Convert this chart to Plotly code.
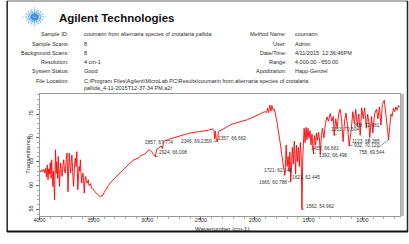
import numpy as np
import plotly.graph_objects as go

W, H = 409, 244

# ---------------- data ----------------
wavenumber = [4000, 3990, 3980, 3970, 3960, 3950, 3942, 3935, 3927, 3921, 3915, 3908, 3900, 3893, 3887,
              3881, 3876, 3870, 3865, 3860, 3855, 3851, 3845, 3840, 3835, 3830, 3826, 3820, 3814, 3808,
              3803, 3797, 3790, 3783, 3775, 3768, 3760, 3752, 3744, 3740, 3735, 3729, 3723, 3717, 3711,
              3705, 3699, 3692, 3684, 3676, 3668, 3660, 3653, 3648, 3644, 3638, 3632, 3626, 3620, 3614,
              3608, 3602, 3596, 3590, 3584, 3578, 3571, 3564, 3557, 3547, 3540, 3532, 3525, 3516, 3500,
              3486, 3470, 3456, 3445, 3434, 3425, 3416, 3400, 3380, 3360, 3334, 3300, 3274, 3240, 3213,
              3170, 3122, 3090, 3076, 3060, 3045, 3031, 3010, 2985, 2970, 2958, 2945, 2933, 2924, 2912,
              2890, 2870, 2857, 2848, 2800, 2727, 2650, 2605, 2540, 2484, 2430, 2392, 2380, 2372, 2366,
              2357, 2346, 2338, 2320, 2301, 2250, 2210, 2160, 2119, 2070, 2028, 1970, 1930, 1907, 1890,
              1882, 1872, 1861, 1850, 1841, 1830, 1818, 1800, 1784, 1772, 1761, 1750, 1739, 1730, 1721,
              1713, 1709, 1700, 1691, 1681, 1674, 1666, 1659, 1651, 1642, 1633, 1621, 1613, 1604, 1595,
              1586, 1577, 1569, 1562, 1554, 1542, 1533, 1524, 1515, 1506, 1496, 1487, 1478, 1469, 1455,
              1446, 1435, 1426, 1417, 1408, 1400, 1392, 1381, 1372, 1358, 1344, 1329, 1317, 1299, 1285,
              1271, 1263, 1248, 1235, 1221, 1207, 1194, 1180, 1166, 1153, 1139, 1123, 1103, 1089, 1075,
              1062, 1048, 1034, 1021, 1007, 993, 980, 964, 952, 942, 932, 916, 904, 888, 870,
              856, 843, 828, 815, 797, 786, 775, 766, 758, 745, 735, 725, 712, 700, 690,
              678, 665, 652]
transmittance = [63.1, 62.8, 63.3, 62.9, 63.4, 62.6, 63.6, 61.8, 64.3, 61.2, 63.5, 62.4, 64.8, 61.5, 65.4,
                 62.0, 59.8, 63.0, 61.0, 57.0, 64.0, 67.5, 62.5, 65.0, 63.3, 61.5, 66.1, 63.0, 59.8, 63.5,
                 64.7, 62.5, 61.9, 64.0, 65.4, 63.0, 62.6, 65.5, 66.8, 63.0, 58.7, 63.5, 66.8, 64.0, 62.6,
                 65.0, 66.4, 63.0, 59.8, 63.5, 65.7, 64.0, 67.1, 62.5, 59.1, 62.0, 64.0, 63.0, 65.4, 62.5,
                 60.5, 62.0, 62.6, 61.0, 58.4, 61.0, 61.9, 60.8, 60.5, 61.2, 60.0, 60.1, 60.4, 59.4, 59.2,
                 58.7, 58.3, 58.0, 57.9, 57.6, 57.9, 57.8, 58.5, 59.4, 60.0, 60.8, 61.6, 62.2, 63.0, 63.6,
                 64.5, 65.4, 65.6, 65.8, 66.3, 66.4, 66.5, 66.8, 67.5, 67.3, 67.1, 66.6, 66.4, 66.008, 67.6,
                 67.9, 68.3, 67.774, 69.2, 69.7, 70.25, 70.7, 71.0, 71.2, 71.3, 71.6, 71.9, 71.6, 69.8, 71.4,
                 69.5, 69.235, 71.3, 71.5, 71.7, 72.4, 72.9, 73.2, 73.4, 73.8, 74.2, 74.8, 75.2, 75.5, 75.3,
                 76.2, 75.3, 76.9, 75.6, 76.8, 75.8, 76.0, 74.1, 72.0, 70.2, 68.5, 66.5, 65.0, 63.0, 62.148,
                 65.5, 68.5, 64.0, 66.1, 63.0, 67.0, 60.788, 66.0, 68.0, 64.5, 69.3, 62.445, 68.5, 65.0, 68.0,
                 64.0, 69.0, 66.0, 54.962, 66.0, 72.0, 69.0, 72.2, 69.6, 72.0, 70.0, 71.5, 68.5, 70.8, 66.661,
                 70.5, 68.5, 71.0, 69.5, 71.2, 70.0, 66.498, 70.5, 72.0, 70.0, 73.0, 74.4, 73.5, 75.1, 73.5,
                 74.5, 70.504, 74.0, 72.0, 75.0, 76.0, 74.0, 69.2, 73.5, 75.2, 72.5, 68.285, 72.0, 75.5, 73.0,
                 76.0, 72.5, 75.0, 70.5, 76.3, 74.0, 76.3, 72.0, 75.0, 73.5, 70.120, 74.5, 71.0, 75.0, 76.0,
                 74.0, 76.5, 72.681, 77.0, 77.9, 76.0, 73.0, 71.5, 69.544, 73.5, 75.0, 74.5, 76.2, 75.5, 76.5,
                 75.8, 76.8, 76.4]

x_tick_values = [4000, 3500, 3000, 2500, 2000, 1500, 1000]
y_tick_values = [55, 60, 65, 70, 75]

peak_wavenumbers = [2924, 2857, 2346, 2357, 1721, 1666, 1621, 1562, 1455, 1392, 1263, 1123, 932, 828, 758]
peak_labels = ["2924, 66.008", "2857, 67.774", "2346, 69.2359", "2357, 66.662", "1721, 62.148",
               "1666, 60.788", "1621, 62.445", "1562, 54.962", "1455, 66.661", "1392, 66.498",
               "1263, 70.504", "1123, 68.285", "932, 70.120", "828, 72.681", "758, 69.544"]

left_fields = ["Sample ID:", "Sample Scans:", "Background Scans:", "Resolution:", "System Status:", "File Location:"]
left_values = ["coumarin from alternaria species of crotalaria pallida", "8", "8", "4 cm-1", "Good",
               "C:/Program Files\\Agilent\\MicroLab PC\\Results\\coumarin from alternaria species of crotalaria"]
file_location_line2 = "pallida_4-11-2015T12-37-34 PM.a2r"
right_fields = ["Method Name:", "User:", "Date/Time:", "Range:", "Apodization:"]
right_values = ["coumarin", "Admin", "4/11/2015  12:36:46PM", "4,000.00 - 650.00", "Happ-Genzel"]

# ---------------- layout helpers ----------------
PX0, PX1, PY0, PY1 = 34, 400, 94, 216   # plot area in pixels
def fx(px):
    return px / W
def fy(py):
    return 1 - py / H

FONT = "Liberation Sans, Arial, sans-serif"
TXT = "#2a2a2a"

fig = go.Figure()

fig.add_trace(go.Scatter(x=wavenumber, y=transmittance, mode="lines",
                         line=dict(color="#ff0000", width=0.9), hoverinfo="skip",
                         showlegend=False))

# Agilent spark logo (decorative)
lx, ly, ls, lc = [], [], [], []
for k in range(16):
    ang = np.pi * 2 * k / 16
    reach = 1.0 if k % 8 == 0 else (0.78 if k % 4 == 0 else (0.7 if k % 2 == 0 else 0.6))
    for j, r in enumerate([3.2, 6.0, 8.6, 11.2, 13.6]):
        if r / 13.6 > reach + 0.05:
            continue
        lx.append(r * np.cos(ang))
        ly.append(r * np.sin(ang) * 0.82)
        ls.append([2.6, 2.2, 1.9, 1.5, 1.2][j])
        lc.append(["#2a86d0", "#3d9ddc", "#5ab0e6", "#7cc3ee", "#a2d6f4"][j])
lx.append(0); ly.append(0); ls.append(3.2); lc.append("#1a72bd")
fig.add_trace(go.Scatter(x=lx, y=ly, mode="markers", xaxis="x2", yaxis="y2",
                         marker=dict(size=ls, color=lc, line=dict(width=0)),
                         hoverinfo="skip", showlegend=False))

annotations = []
# header
annotations.append(dict(x=fx(52), y=fy(17.5), xref="paper", yref="paper", text="<b>Agilent Technologies</b>",
                        showarrow=False, xanchor="left", yanchor="middle",
                        font=dict(family=FONT, size=11.5, color="#111")))
rows = [34, 44, 53, 62, 71, 81]
for i, (f, v) in enumerate(zip(left_fields, left_values)):
    annotations.append(dict(x=fx(66), y=fy(rows[i]), xref="paper", yref="paper", text=f, showarrow=False,
                            xanchor="right", yanchor="middle", font=dict(family=FONT, size=5.5, color=TXT)))
    annotations.append(dict(x=fx(77), y=fy(rows[i]), xref="paper", yref="paper", text=v, showarrow=False,
                            xanchor="left", yanchor="middle", font=dict(family=FONT, size=5.5, color=TXT)))
annotations.append(dict(x=fx(77), y=fy(87.5), xref="paper", yref="paper", text=file_location_line2,
                        showarrow=False, xanchor="left", yanchor="middle",
                        font=dict(family=FONT, size=5.5, color=TXT)))
for i, (f, v) in enumerate(zip(right_fields, right_values)):
    annotations.append(dict(x=fx(287), y=fy(rows[i]), xref="paper", yref="paper", text=f, showarrow=False,
                            xanchor="right", yanchor="middle", font=dict(family=FONT, size=5.5, color=TXT)))
    annotations.append(dict(x=fx(291), y=fy(rows[i]), xref="paper", yref="paper", text=v, showarrow=False,
                            xanchor="left", yanchor="middle", font=dict(family=FONT, size=5.5, color=TXT)))

# peak labels: text-centre offsets (pixels) from the peak point
label_offsets = [(18, -4), (-4, -6), (-21, 0), (16, -2), (-7, -5), (-18, 1), (10, 4), (18, -3.5),
                 (12, -5), (13, 0.5), (11, -5.5), (17, -5), (-3, 8.7), (-14, 0), (-17, 12)]
wn_sorted = np.array(wavenumber[::-1], dtype=float)
tr_sorted = np.array(transmittance[::-1], dtype=float)
for w, lab, (dx, dy) in zip(peak_wavenumbers, peak_labels, label_offsets):
    yv = float(np.interp(w, wn_sorted, tr_sorted))
    annotations.append(dict(x=w, y=yv, xref="x", yref="y", text=lab, showarrow=True, arrowhead=0,
                            arrowwidth=0.5, arrowcolor="#333", standoff=0, ax=dx, ay=dy,
                            font=dict(family=FONT, size=4.8, color="#333")))

# axis titles
annotations.append(dict(x=fx(22), y=fy(155), xref="paper", yref="paper", text="Transmittance", textangle=-90,
                        showarrow=False, xanchor="center", yanchor="middle",
                        font=dict(family=FONT, size=6, color=TXT)))
annotations.append(dict(x=fx(219), y=fy(228.5), xref="paper", yref="paper", text="Wavenumber (cm-1)",
                        showarrow=False, xanchor="center", yanchor="middle",
                        font=dict(family=FONT, size=6, color=TXT)))

shapes = [
    # page frame
    dict(type="line", xref="paper", yref="paper", x0=fx(1), x1=fx(408), y0=fy(1), y1=fy(1),
         line=dict(color="#999", width=1.5)),
    dict(type="line", xref="paper", yref="paper", x0=fx(1.2), x1=fx(1.2), y0=fy(1), y1=fy(232),
         line=dict(color="#222", width=1.5)),
    dict(type="line", xref="paper", yref="paper", x0=fx(407.5), x1=fx(407.5), y0=fy(1), y1=fy(232),
         line=dict(color="#222", width=1.5)),
    dict(type="line", xref="paper", yref="paper", x0=fx(1), x1=fx(408), y0=fy(231.5), y1=fy(231.5),
         line=dict(color="#111", width=2)),
    # gray bar right of plot
    dict(type="rect", xref="paper", yref="paper", x0=fx(400.5), x1=fx(404), y0=fy(94), y1=fy(216),
         line=dict(width=0), fillcolor="#bdbdbd"),
]

fig.update_layout(
    width=W, height=H, margin=dict(l=0, r=0, t=0, b=0),
    paper_bgcolor="white", plot_bgcolor="white",
    showlegend=False, annotations=annotations, shapes=shapes,
    xaxis=dict(domain=[fx(PX0), fx(PX1)], range=[4000, 650], tickvals=x_tick_values, tickformat="d",
               ticks="outside", ticklen=3, tickwidth=0.8, tickcolor="#555", ticklabelstandoff=-5,
               minor=dict(dtick=100, ticks="outside", ticklen=2, tickwidth=0.6, tickcolor="#777"),
               showgrid=False, zeroline=False, showline=True, linecolor="#999", linewidth=1, mirror=True,
               tickfont=dict(family=FONT, size=5.5, color=TXT)),
    yaxis=dict(domain=[fy(PY1), fy(PY0)], range=[53.6, 79.2], tickvals=y_tick_values, tickangle=-90,
               ticks="outside", ticklen=3, tickwidth=0.8, tickcolor="#555",
               minor=dict(dtick=1, ticks="outside", ticklen=2, tickwidth=0.6, tickcolor="#777"),
               showgrid=False, zeroline=False, showline=True, linecolor="#999", linewidth=1, mirror=True,
               tickfont=dict(family=FONT, size=5.5, color=TXT)),
    xaxis2=dict(domain=[fx(14), fx(44)], range=[-15, 15], visible=False, fixedrange=True),
    yaxis2=dict(domain=[fy(28.5), fy(5.5)], range=[-11.5, 11.5], visible=False, fixedrange=True),
)

fig.write_html("out.html", config={"displayModeBar": False, "staticPlot": True},
               post_script="document.body.style.margin='0';document.body.style.overflow='hidden';")
